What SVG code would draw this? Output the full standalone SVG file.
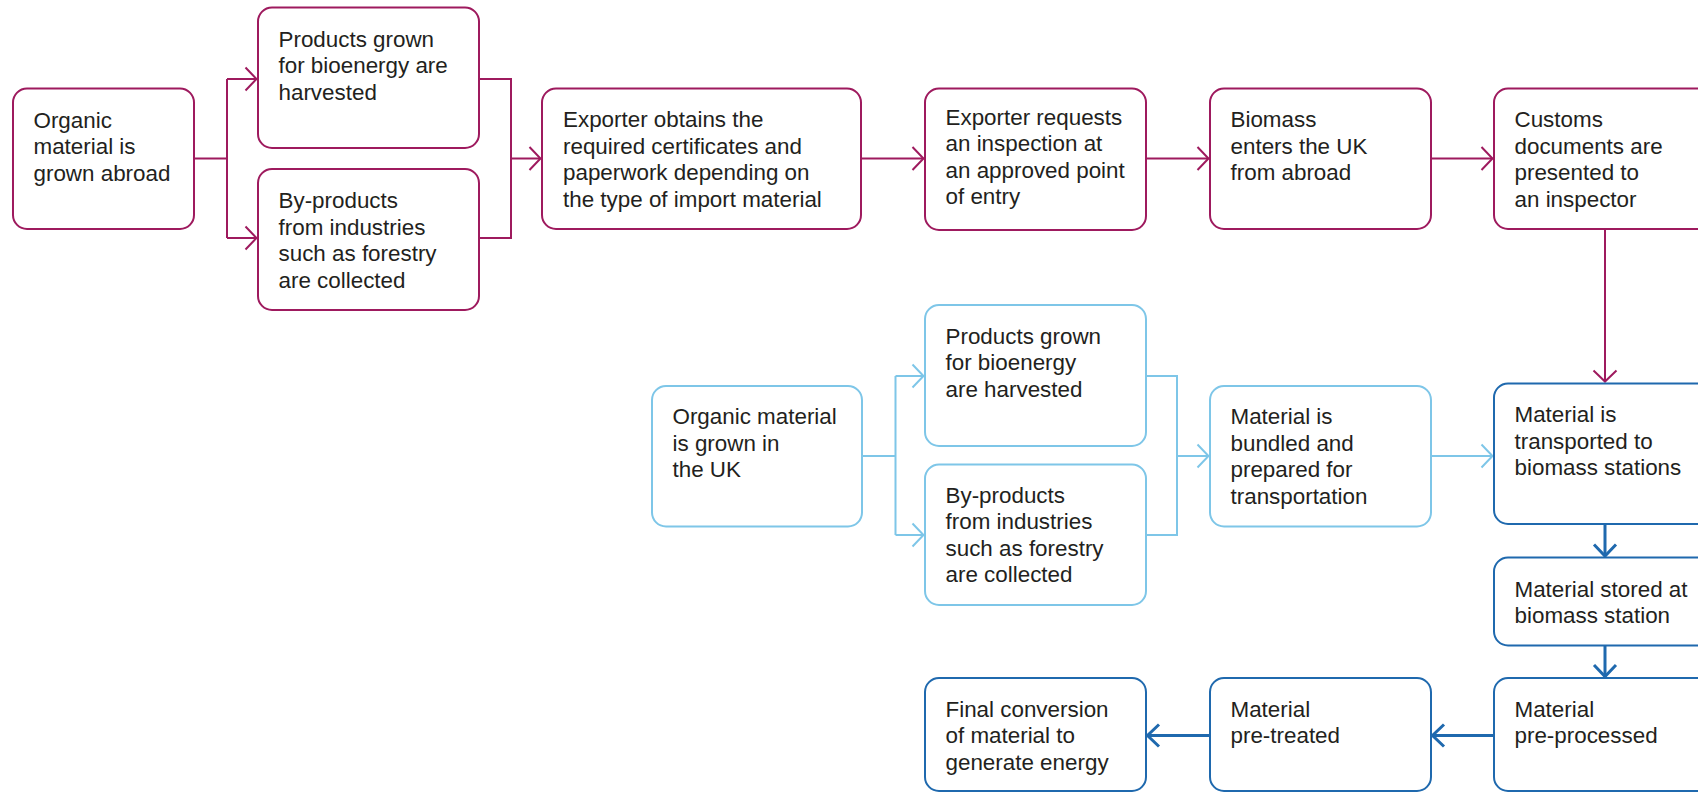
<svg xmlns="http://www.w3.org/2000/svg" width="1698" height="793" viewBox="0 0 1698 793">
<style>
.box{fill:#fff;stroke-width:2}
.m{stroke:#9E1A5E}
.l{stroke:#7EC6E8}
.d{stroke:#1F69AE}
.t{font-family:"Liberation Sans",Arial,sans-serif;font-size:22.4px;fill:#231F20}
.c{fill:none;stroke-width:2}
.cd{fill:none;stroke-width:3}
</style>
<defs>
<marker id="am" markerUnits="userSpaceOnUse" viewBox="0 0 14 26" markerWidth="14" markerHeight="26" refX="12.5" refY="13" orient="auto"><path d="M1.5,1.5 L12.5,13 L1.5,24.5" fill="none" stroke="#9E1A5E" stroke-width="2"/></marker>
<marker id="al" markerUnits="userSpaceOnUse" viewBox="0 0 14 26" markerWidth="14" markerHeight="26" refX="12.5" refY="13" orient="auto"><path d="M1.5,1.5 L12.5,13 L1.5,24.5" fill="none" stroke="#7EC6E8" stroke-width="2"/></marker>
<marker id="ad" markerUnits="userSpaceOnUse" viewBox="0 0 16 26" markerWidth="16" markerHeight="26" refX="13.5" refY="13" orient="auto"><path d="M2,2 L13.5,13 L2,24" fill="none" stroke="#1F69AE" stroke-width="3"/></marker>
</defs>

<g id="connectors">
<path class="c m" d="M194,158.5 H227 M227,79 V238"/>
<path class="c m" d="M227,79 H256.5" marker-end="url(#am)"/>
<path class="c m" d="M227,238 H256.5" marker-end="url(#am)"/>
<path class="c m" d="M480,79 H511 V238 H480"/>
<path class="c m" d="M511,158.5 H540.5" marker-end="url(#am)"/>
<path class="c m" d="M861,158.5 H923.5" marker-end="url(#am)"/>
<path class="c m" d="M1146,158.5 H1208.5" marker-end="url(#am)"/>
<path class="c m" d="M1431,158.5 H1492.5" marker-end="url(#am)"/>
<path class="c m" d="M1605,229 V381.5" marker-end="url(#am)"/>

<path class="c l" d="M862,456 H895.5 M895.5,376 V535"/>
<path class="c l" d="M895.5,376 H923.5" marker-end="url(#al)"/>
<path class="c l" d="M895.5,535 H923.5" marker-end="url(#al)"/>
<path class="c l" d="M1147,376 H1177 V535 H1147"/>
<path class="c l" d="M1177,456 H1208.5" marker-end="url(#al)"/>
<path class="c l" d="M1431,456 H1492.5" marker-end="url(#al)"/>

<path class="cd d" d="M1605,524 V556" marker-end="url(#ad)"/>
<path class="cd d" d="M1605,645.5 V676.5" marker-end="url(#ad)"/>
<path class="cd d" d="M1494,735.5 H1432.5" marker-end="url(#ad)"/>
<path class="cd d" d="M1210,735.5 H1147.5" marker-end="url(#ad)"/>
</g>

<g id="b1"><rect class="box m" x="13" y="88.5" width="181" height="140.5" rx="14"/>
<text class="t" x="33.5" y="127.5"><tspan x="33.5">Organic</tspan><tspan x="33.5" dy="26.6">material is</tspan><tspan x="33.5" dy="26.6">grown abroad</tspan></text></g>

<g id="b2"><rect class="box m" x="258" y="7.5" width="221" height="140.5" rx="14"/>
<text class="t" x="278.5" y="46.5"><tspan x="278.5">Products grown</tspan><tspan x="278.5" dy="26.6">for bioenergy are</tspan><tspan x="278.5" dy="26.6">harvested</tspan></text></g>

<g id="b3"><rect class="box m" x="258" y="169" width="221" height="141" rx="14"/>
<text class="t" x="278.5" y="208"><tspan x="278.5">By-products</tspan><tspan x="278.5" dy="26.6">from industries</tspan><tspan x="278.5" dy="26.6">such as forestry</tspan><tspan x="278.5" dy="26.6">are collected</tspan></text></g>

<g id="b4"><rect class="box m" x="542" y="88.5" width="319" height="140.5" rx="14"/>
<text class="t" x="563" y="127"><tspan x="563">Exporter obtains the</tspan><tspan x="563" dy="26.6">required certificates and</tspan><tspan x="563" dy="26.6">paperwork depending on</tspan><tspan x="563" dy="26.6">the type of import material</tspan></text></g>

<g id="b5"><rect class="box m" x="925" y="88.5" width="221" height="141.5" rx="14"/>
<text class="t" x="945.5" y="124.5"><tspan x="945.5">Exporter requests</tspan><tspan x="945.5" dy="26.6">an inspection at</tspan><tspan x="945.5" dy="26.6">an approved point</tspan><tspan x="945.5" dy="26.6">of entry</tspan></text></g>

<g id="b6"><rect class="box m" x="1210" y="88.5" width="221" height="140.5" rx="14"/>
<text class="t" x="1230.5" y="127"><tspan x="1230.5">Biomass</tspan><tspan x="1230.5" dy="26.6">enters the UK</tspan><tspan x="1230.5" dy="26.6">from abroad</tspan></text></g>

<g id="b7"><rect class="box m" x="1494" y="88.5" width="221" height="140.5" rx="14"/>
<text class="t" x="1514.5" y="127"><tspan x="1514.5">Customs</tspan><tspan x="1514.5" dy="26.6">documents are</tspan><tspan x="1514.5" dy="26.6">presented to</tspan><tspan x="1514.5" dy="26.6">an inspector</tspan></text></g>

<g id="c1"><rect class="box l" x="652" y="386" width="210" height="140.5" rx="14"/>
<text class="t" x="672.5" y="424"><tspan x="672.5">Organic material</tspan><tspan x="672.5" dy="26.6">is grown in</tspan><tspan x="672.5" dy="26.6">the UK</tspan></text></g>

<g id="c2"><rect class="box l" x="925" y="305" width="221" height="141" rx="14"/>
<text class="t" x="945.5" y="343.5"><tspan x="945.5">Products grown</tspan><tspan x="945.5" dy="26.6">for bioenergy</tspan><tspan x="945.5" dy="26.6">are harvested</tspan></text></g>

<g id="c3"><rect class="box l" x="925" y="464.5" width="221" height="140.5" rx="14"/>
<text class="t" x="945.5" y="502.5"><tspan x="945.5">By-products</tspan><tspan x="945.5" dy="26.6">from industries</tspan><tspan x="945.5" dy="26.6">such as forestry</tspan><tspan x="945.5" dy="26.6">are collected</tspan></text></g>

<g id="c4"><rect class="box l" x="1210" y="386" width="221" height="140.5" rx="14"/>
<text class="t" x="1230.5" y="424"><tspan x="1230.5">Material is</tspan><tspan x="1230.5" dy="26.6">bundled and</tspan><tspan x="1230.5" dy="26.6">prepared for</tspan><tspan x="1230.5" dy="26.6">transportation</tspan></text></g>

<g id="d1"><rect class="box d" x="1494" y="383.5" width="221" height="140.5" rx="14"/>
<text class="t" x="1514.5" y="422"><tspan x="1514.5">Material is</tspan><tspan x="1514.5" dy="26.6">transported to</tspan><tspan x="1514.5" dy="26.6">biomass stations</tspan></text></g>

<g id="d2"><rect class="box d" x="1494" y="557.5" width="221" height="88" rx="14"/>
<text class="t" x="1514.5" y="596.5"><tspan x="1514.5">Material stored at</tspan><tspan x="1514.5" dy="26.6">biomass station</tspan></text></g>

<g id="d3"><rect class="box d" x="1494" y="678" width="221" height="113" rx="14"/>
<text class="t" x="1514.5" y="716.5"><tspan x="1514.5">Material</tspan><tspan x="1514.5" dy="26.6">pre-processed</tspan></text></g>

<g id="d4"><rect class="box d" x="1210" y="678" width="221" height="113" rx="14"/>
<text class="t" x="1230.5" y="716.5"><tspan x="1230.5">Material</tspan><tspan x="1230.5" dy="26.6">pre-treated</tspan></text></g>

<g id="d5"><rect class="box d" x="925" y="678" width="221" height="113" rx="14"/>
<text class="t" x="945.5" y="716.5"><tspan x="945.5">Final conversion</tspan><tspan x="945.5" dy="26.6">of material to</tspan><tspan x="945.5" dy="26.6">generate energy</tspan></text></g>
</svg>
